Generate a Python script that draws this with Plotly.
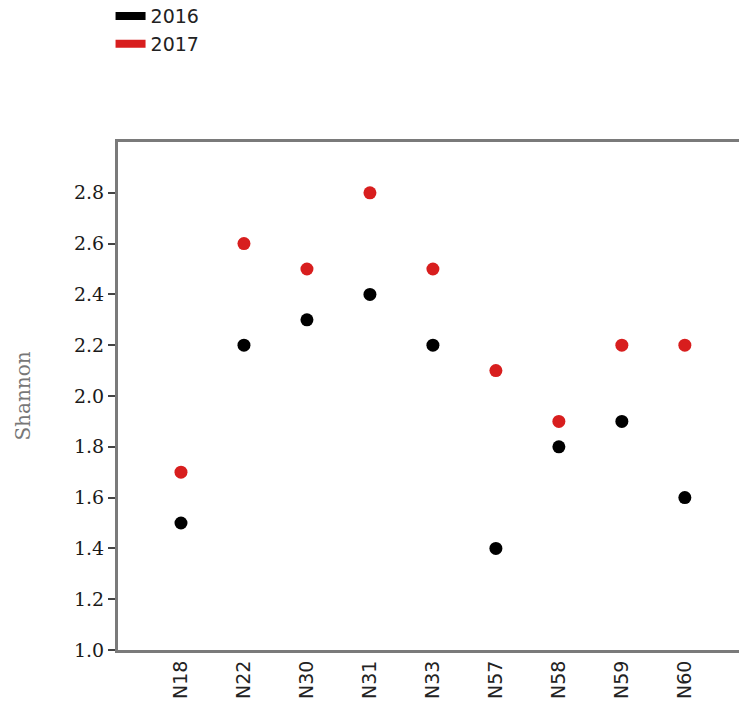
import plotly.graph_objects as go

sites = ["N18", "N22", "N30", "N31", "N33", "N57", "N58", "N59", "N60"]
shannon_2016 = [1.5, 2.2, 2.3, 2.4, 2.2, 1.4, 1.8, 1.9, 1.6]
shannon_2017 = [1.7, 2.6, 2.5, 2.8, 2.5, 2.1, 1.9, 2.2, 2.2]
y_ticks = [1.0, 1.2, 1.4, 1.6, 1.8, 2.0, 2.2, 2.4, 2.6, 2.8]

series = [("2016", shannon_2016, "#000000"), ("2017", shannon_2017, "#d81e1e")]

fig = go.Figure()
for name, vals, color in series:
    fig.add_trace(go.Scatter(
        x=sites, y=vals, mode="markers", name=name, legendgroup=name,
        showlegend=False, marker=dict(color=color, size=13),
    ))
    # thick bar swatch for the legend
    fig.add_trace(go.Scatter(
        x=[None], y=[None], mode="lines", name=name, legendgroup=name,
        line=dict(color=color, width=8),
    ))

axis_color = "#7a7a7a"
fig.update_layout(
    width=739, height=707,
    margin=dict(l=118, r=0, t=142, b=57, autoexpand=False),
    paper_bgcolor="white", plot_bgcolor="white",
    showlegend=True,
    legend=dict(
        x=-0.012, y=1.285, xanchor="left", yanchor="top",
        font=dict(family="DejaVu Sans", size=19, color="#222"),
        itemwidth=30, tracegroupgap=0, bgcolor="rgba(0,0,0,0)",
    ),
    xaxis=dict(
        type="category", categoryorder="array", categoryarray=sites,
        range=[-1, 8.86], showgrid=False, zeroline=False,
        showline=True, linecolor=axis_color, linewidth=3, mirror=True,
        ticks="", tickangle=-90, automargin=False,
        tickfont=dict(family="DejaVu Sans", size=19, color="#222"),
    ),
    yaxis=dict(
        range=[1.0, 3.0], tickvals=y_ticks, ticktext=[f"{v:.1f}" for v in y_ticks],
        showgrid=False, zeroline=False, automargin=False,
        showline=True, linecolor=axis_color, linewidth=3,
        ticks="outside", ticklen=7, tickwidth=2, tickcolor="#444",
        tickfont=dict(family="DejaVu Serif", size=19, color="#1a1a1a"),
        title=dict(text="Shannon", font=dict(family="DejaVu Serif", size=20, color="#777"), standoff=38),
    ),
)

fig.write_html("out.html")
